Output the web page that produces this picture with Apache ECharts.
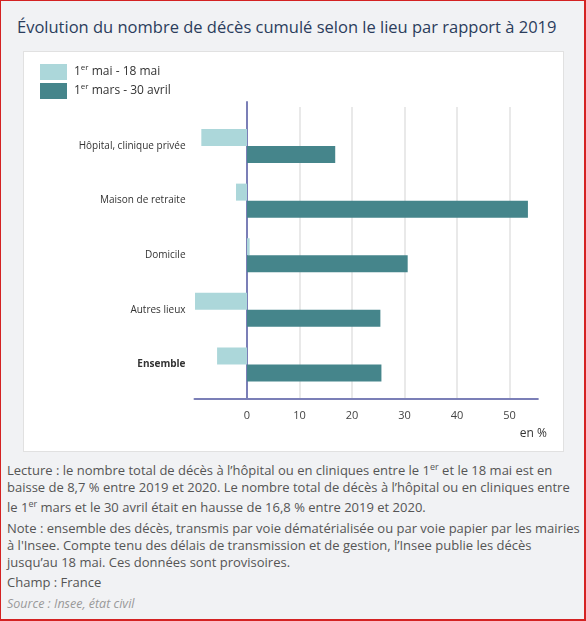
<!DOCTYPE html>
<html lang="fr">
<head>
<meta charset="utf-8">
<title>Évolution du nombre de décès cumulé selon le lieu</title>
<script src="https://cdn.jsdelivr.net/npm/echarts@6.0.0/dist/echarts.min.js"></script>
<style>
    body { margin: 0; }
    #page {
        position: relative; width: 586px; height: 621px; box-sizing: border-box;
        border: 1px solid #d42222; border-right-width: 2px; border-bottom-width: 2px;
        background: #f1f2f4; font-family: 'Open Sans', sans-serif; overflow: hidden;
    }
    #title {
        position: absolute; left: 16px; top: 15px; white-space: nowrap;
        font-size: 16.5px; line-height: 22px; color: #2b3d5c;
    }
    #panel, #chart { position: absolute; left: 22px; top: 50px; width: 541px; height: 401px; }
    #panel { box-sizing: border-box; background: #fff; border: 1px solid #e1e1e1; }
    #notes {
        position: absolute; left: 6px; top: 458px; width: 576px;
        font-size: 13px; line-height: 17px; color: #555; white-space: nowrap;
    }
    #notes p { margin: 0 0 3px 0; }
    #notes sup { font-size: 9px; line-height: 16px; }
    #notes .source { color: #999; font-style: italic; font-size: 12.5px; margin-top: 4px; }
</style>
</head>
<body>
<div id="page">
    <div id="title">Évolution du nombre de décès cumulé selon le lieu par rapport à 2019</div>
    <div id="panel"></div>
    <div id="chart"></div>
    <div id="notes">
        <p>Lecture : le nombre total de décès à l’hôpital ou en cliniques entre le 1<sup>er</sup> et le 18 mai est en<br>baisse de 8,7 % entre 2019 et 2020. Le nombre total de décès à l’hôpital ou en cliniques entre<br>le 1<sup>er</sup> mars et le 30 avril était en hausse de 16,8 % entre 2019 et 2020.</p>
        <p>Note : ensemble des décès, transmis par voie dématérialisée ou par voie papier par les mairies<br>à l'Insee. Compte tenu des délais de transmission et de gestion, l’Insee publie les décès<br>jusqu’au 18 mai. Ces données sont provisoires.</p>
        <p>Champ : France</p>
        <p class="source">Source : Insee, état civil</p>
    </div>
</div>
<script>
// données (en %)
var categories = ['Hôpital, clinique privée', 'Maison de retraite', 'Domicile', 'Autres lieux', 'Ensemble'];
var seriesNames = ['1er mai - 18 mai', '1er mars - 30 avril'];
var maiValues = [-8.7, -2.1, 0.5, -9.9, -5.7];
var marsValues = [16.8, 53.5, 30.6, 25.4, 25.6];
var tickValues = [0, 10, 20, 30, 40, 50];
var axisUnit = 'en %';

(function (window, echarts) {
    var colors = ['#acd7da', '#45858b'];
    var axisColor = '#7b7fb7';
    var xMin = -10, xMax = 55.4;

    // axe des valeurs commun aux trois grilles
    function valueAxis(gridIndex, visible) {
        return {
            type: 'value',
            gridIndex: gridIndex,
            min: xMin,
            max: xMax,
            interval: 10,
            show: visible,
            axisLine: { show: visible, onZero: false, lineStyle: { color: axisColor, width: 2 } },
            axisTick: { show: false },
            axisLabel: {
                show: visible,
                margin: 11,
                color: '#444',
                fontSize: 11,
                fontFamily: 'Open Sans',
                formatter: function (value) {
                    return tickValues.indexOf(value) >= 0 ? String(value) : '';
                }
            },
            splitLine: {
                show: visible,
                showMinLine: false,
                showMaxLine: false,
                lineStyle: { color: '#e2e2e2', width: 1.5 }
            }
        };
    }

    function hiddenAxis(gridIndex, zeroLine) {
        return {
            type: 'value',
            gridIndex: gridIndex,
            min: 0,
            max: 1,
            axisLine: { show: zeroLine, onZero: true, lineStyle: { color: axisColor, width: 2 } },
            axisTick: { show: false },
            axisLabel: { show: false },
            splitLine: { show: false }
        };
    }

    function buildCategoryData() {
        return categories.map(function (name) {
            if (name === 'Ensemble') {
                return { value: name, textStyle: { fontWeight: 'bold' } };
            }
            return name;
        });
    }

    function buildSeries() {
        return [maiValues, marsValues].map(function (values, i) {
            return {
                name: seriesNames[i],
                type: 'bar',
                xAxisIndex: 0,
                yAxisIndex: 0,
                data: values,
                barWidth: 17,
                barGap: '0%',
                itemStyle: { color: colors[i] },
                silent: true
            };
        });
    }

    function drawChart(dom) {
        var chart = echarts.init(dom, null, { renderer: 'canvas' });
        chart.setOption({
            animation: false,
            textStyle: { fontFamily: 'Open Sans' },
            legend: {
                orient: 'vertical',
                left: 17,
                top: 13,
                padding: 0,
                itemWidth: 27,
                itemHeight: 16,
                itemGap: 3,
                icon: 'rect',
                selectedMode: false,
                data: seriesNames,
                textStyle: {
                    color: '#333',
                    padding: [0, 0, 0, 2],
                    rich: {
                        n: { fontSize: 12, color: '#333', fontFamily: 'Open Sans', lineHeight: 16 },
                        s: { fontSize: 8, color: '#333', fontFamily: 'Open Sans', verticalAlign: 'top', lineHeight: 11 }
                    }
                },
                formatter: function (name) {
                    return '{n|1}{s|er}{n|' + name.slice(3) + '}';
                }
            },
            grid: [
                { left: 171.5, right: 26.1, top: 67.7, height: 273.1, outerBoundsMode: 'none', containLabel: false },
                { left: 171.5, right: 26.1, top: 56, bottom: 53, outerBoundsMode: 'none', containLabel: false },
                { left: 171.5, right: 26.1, top: 51, bottom: 53, outerBoundsMode: 'none', containLabel: false }
            ],
            xAxis: [valueAxis(0, false), valueAxis(1, true), valueAxis(2, false)],
            yAxis: [
                {
                    type: 'category',
                    gridIndex: 0,
                    inverse: true,
                    data: buildCategoryData(),
                    axisLine: { show: false, onZero: false },
                    axisTick: { show: false },
                    axisLabel: { margin: 9, color: '#333', fontSize: 10, fontFamily: 'Open Sans' },
                    splitLine: { show: false }
                },
                hiddenAxis(1, false),
                hiddenAxis(2, true)
            ],
            graphic: [{
                type: 'text',
                right: 17,
                top: 377,
                style: { text: axisUnit, fill: '#333', font: '12px "Open Sans"' }
            }],
            series: buildSeries()
        });
        return chart;
    }

    drawChart(document.getElementById('chart'));
})(window, echarts);
</script>
</body>
</html>
